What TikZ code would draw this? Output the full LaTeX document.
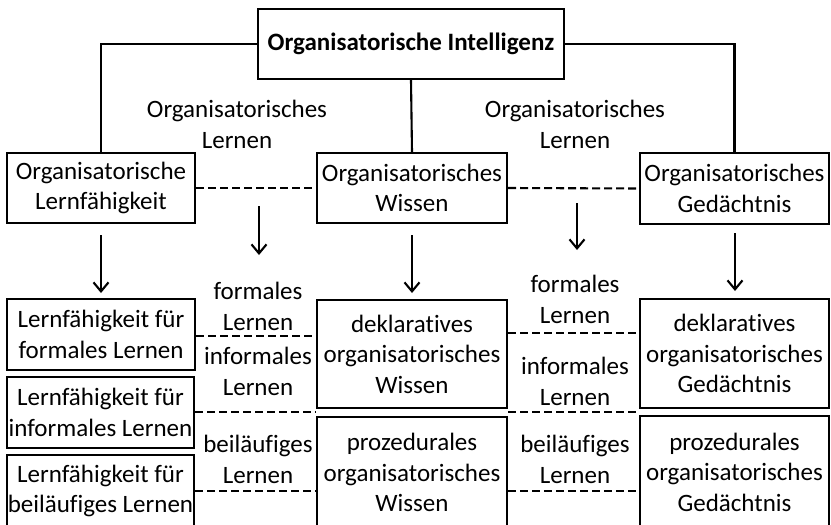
\documentclass[tikz,border=0pt]{standalone}
\usepackage{fontspec}
\setmainfont{Carlito}[Ligatures=NoCommon]
\usetikzlibrary{arrows.meta}
\tikzset{
  box/.style={draw, line width=2.3pt, inner sep=0pt, align=center, font=\fontsize{25}{30.5}\selectfont},
  lbl/.style={inner sep=0pt, align=center, font=\fontsize{25}{31}\selectfont},
  conn/.style={line width=2.1pt},
  dashln/.style={line width=2.1pt, dash pattern=on 8pt off 4pt},
  arr/.style={line width=2.1pt, -{Straight Barb[length=9pt,width=15pt,line width=2.1pt]}}
}
\begin{document}
\begin{tikzpicture}[x=1pt,y=-1pt]
\useasboundingbox (0,0) rectangle (831,525);
% top
\node[box, minimum width=306pt, minimum height=70pt, font=\fontsize{25}{30}\selectfont\bfseries] (top) at (411,44) {Organisatorische Intelligenz};
% second row
\node[box, minimum width=188pt, minimum height=70pt] (L1) at (101,188) {Organisatorische\\Lernfähigkeit};
\node[box, minimum width=190pt, minimum height=70pt] (M1) at (412,188) {Organisatorisches\\Wissen};
\node[box, minimum width=189pt, minimum height=71pt] (R1) at (734.5,188.5) {Organisatorisches\\Gedächtnis};
% connectors from top
\draw[conn] (top.west) -| (L1.north);
\draw[conn] (top.east) -| (R1.north);
\draw[conn] (top.south) -- (M1.north);
\draw[dashln] (L1.east) -- (M1.west);
\draw[dashln] (M1.east) -- (R1.west);
% labels row 1
\node[lbl] (OL1) at (237,124) {Organisatorisches\\Lernen};
\node[lbl] (OL2) at (575,124) {Organisatorisches\\Lernen};
% arrows
\coordinate (a1s) at (101,235); \coordinate (a1e) at (101,293);
\coordinate (a2s) at (259,206); \coordinate (a2e) at (259,255);
\coordinate (a3s) at (412,235); \coordinate (a3e) at (412,293);
\coordinate (a4s) at (577,203); \coordinate (a4e) at (577,250);
\coordinate (a5s) at (735,233); \coordinate (a5e) at (735,291);
\draw[arr] (a1s) -- (a1e);
\draw[arr] (a2s) -- (a2e);
\draw[arr] (a3s) -- (a3e);
\draw[arr] (a4s) -- (a4e);
\draw[arr] (a5s) -- (a5e);
% left lower boxes
\node[box, minimum width=188pt, minimum height=71pt] (L2a) at (101,334.5) {Lernfähigkeit für\\formales Lernen};
\node[box, minimum width=187pt, minimum height=71pt] (L2b) at (100.5,412.5) {Lernfähigkeit für\\informales Lernen};
\node[box, minimum width=187pt, minimum height=72pt] (L2c) at (100.5,491) {Lernfähigkeit für\\beiläufiges Lernen};
% middle lower boxes
\node[box, minimum width=190pt, minimum height=108pt] (M2a) at (412,354) {deklaratives\\organisatorisches\\Wissen};
\node[box, minimum width=190pt, minimum height=111pt] (M2b) at (412,472.5) {prozedurales\\organisatorisches\\Wissen};
% right lower boxes
\node[box, minimum width=189pt, minimum height=109pt] (R2a) at (734.5,353.5) {deklaratives\\organisatorisches\\Gedächtnis};
\node[box, minimum width=189pt, minimum height=112pt] (R2b) at (734.5,472) {prozedurales\\organisatorisches\\Gedächtnis};
% dashed connectors lower
\coordinate (dl1) at (L2a.east |- 0,336); \coordinate (dm1) at (M2a.west |- 0,336);
\coordinate (dl2) at (L2b.east |- 0,412); \coordinate (dm2) at (M2a.west |- 0,412);
\coordinate (dl3) at (L2c.east |- 0,491); \coordinate (dm3) at (M2b.west |- 0,491);
\draw[dashln] (dl1) -- (dm1);
\draw[dashln] (dl2) -- (dm2);
\draw[dashln] (dl3) -- (dm3);
\coordinate (dr1) at (M2a.east |- 0,333); \coordinate (dq1) at (R2a.west |- 0,333);
\coordinate (dr2) at (M2a.east |- 0,412); \coordinate (dq2) at (R2a.west |- 0,412);
\coordinate (dr3) at (M2b.east |- 0,491); \coordinate (dq3) at (R2b.west |- 0,491);
\draw[dashln] (dr1) -- (dq1);
\draw[dashln] (dr2) -- (dq2);
\draw[dashln] (dr3) -- (dq3);
% lower labels
\node[lbl] (fl1) at (258,306) {formales\\Lernen};
\node[lbl] (il1) at (258,371) {informales\\Lernen};
\node[lbl] (bl1) at (258,459) {beiläufiges\\Lernen};
\node[lbl] (fl2) at (575,299) {formales\\Lernen};
\node[lbl] (il2) at (575,381) {informales\\Lernen};
\node[lbl] (bl2) at (575,459) {beiläufiges\\Lernen};
\end{tikzpicture}
\end{document}
